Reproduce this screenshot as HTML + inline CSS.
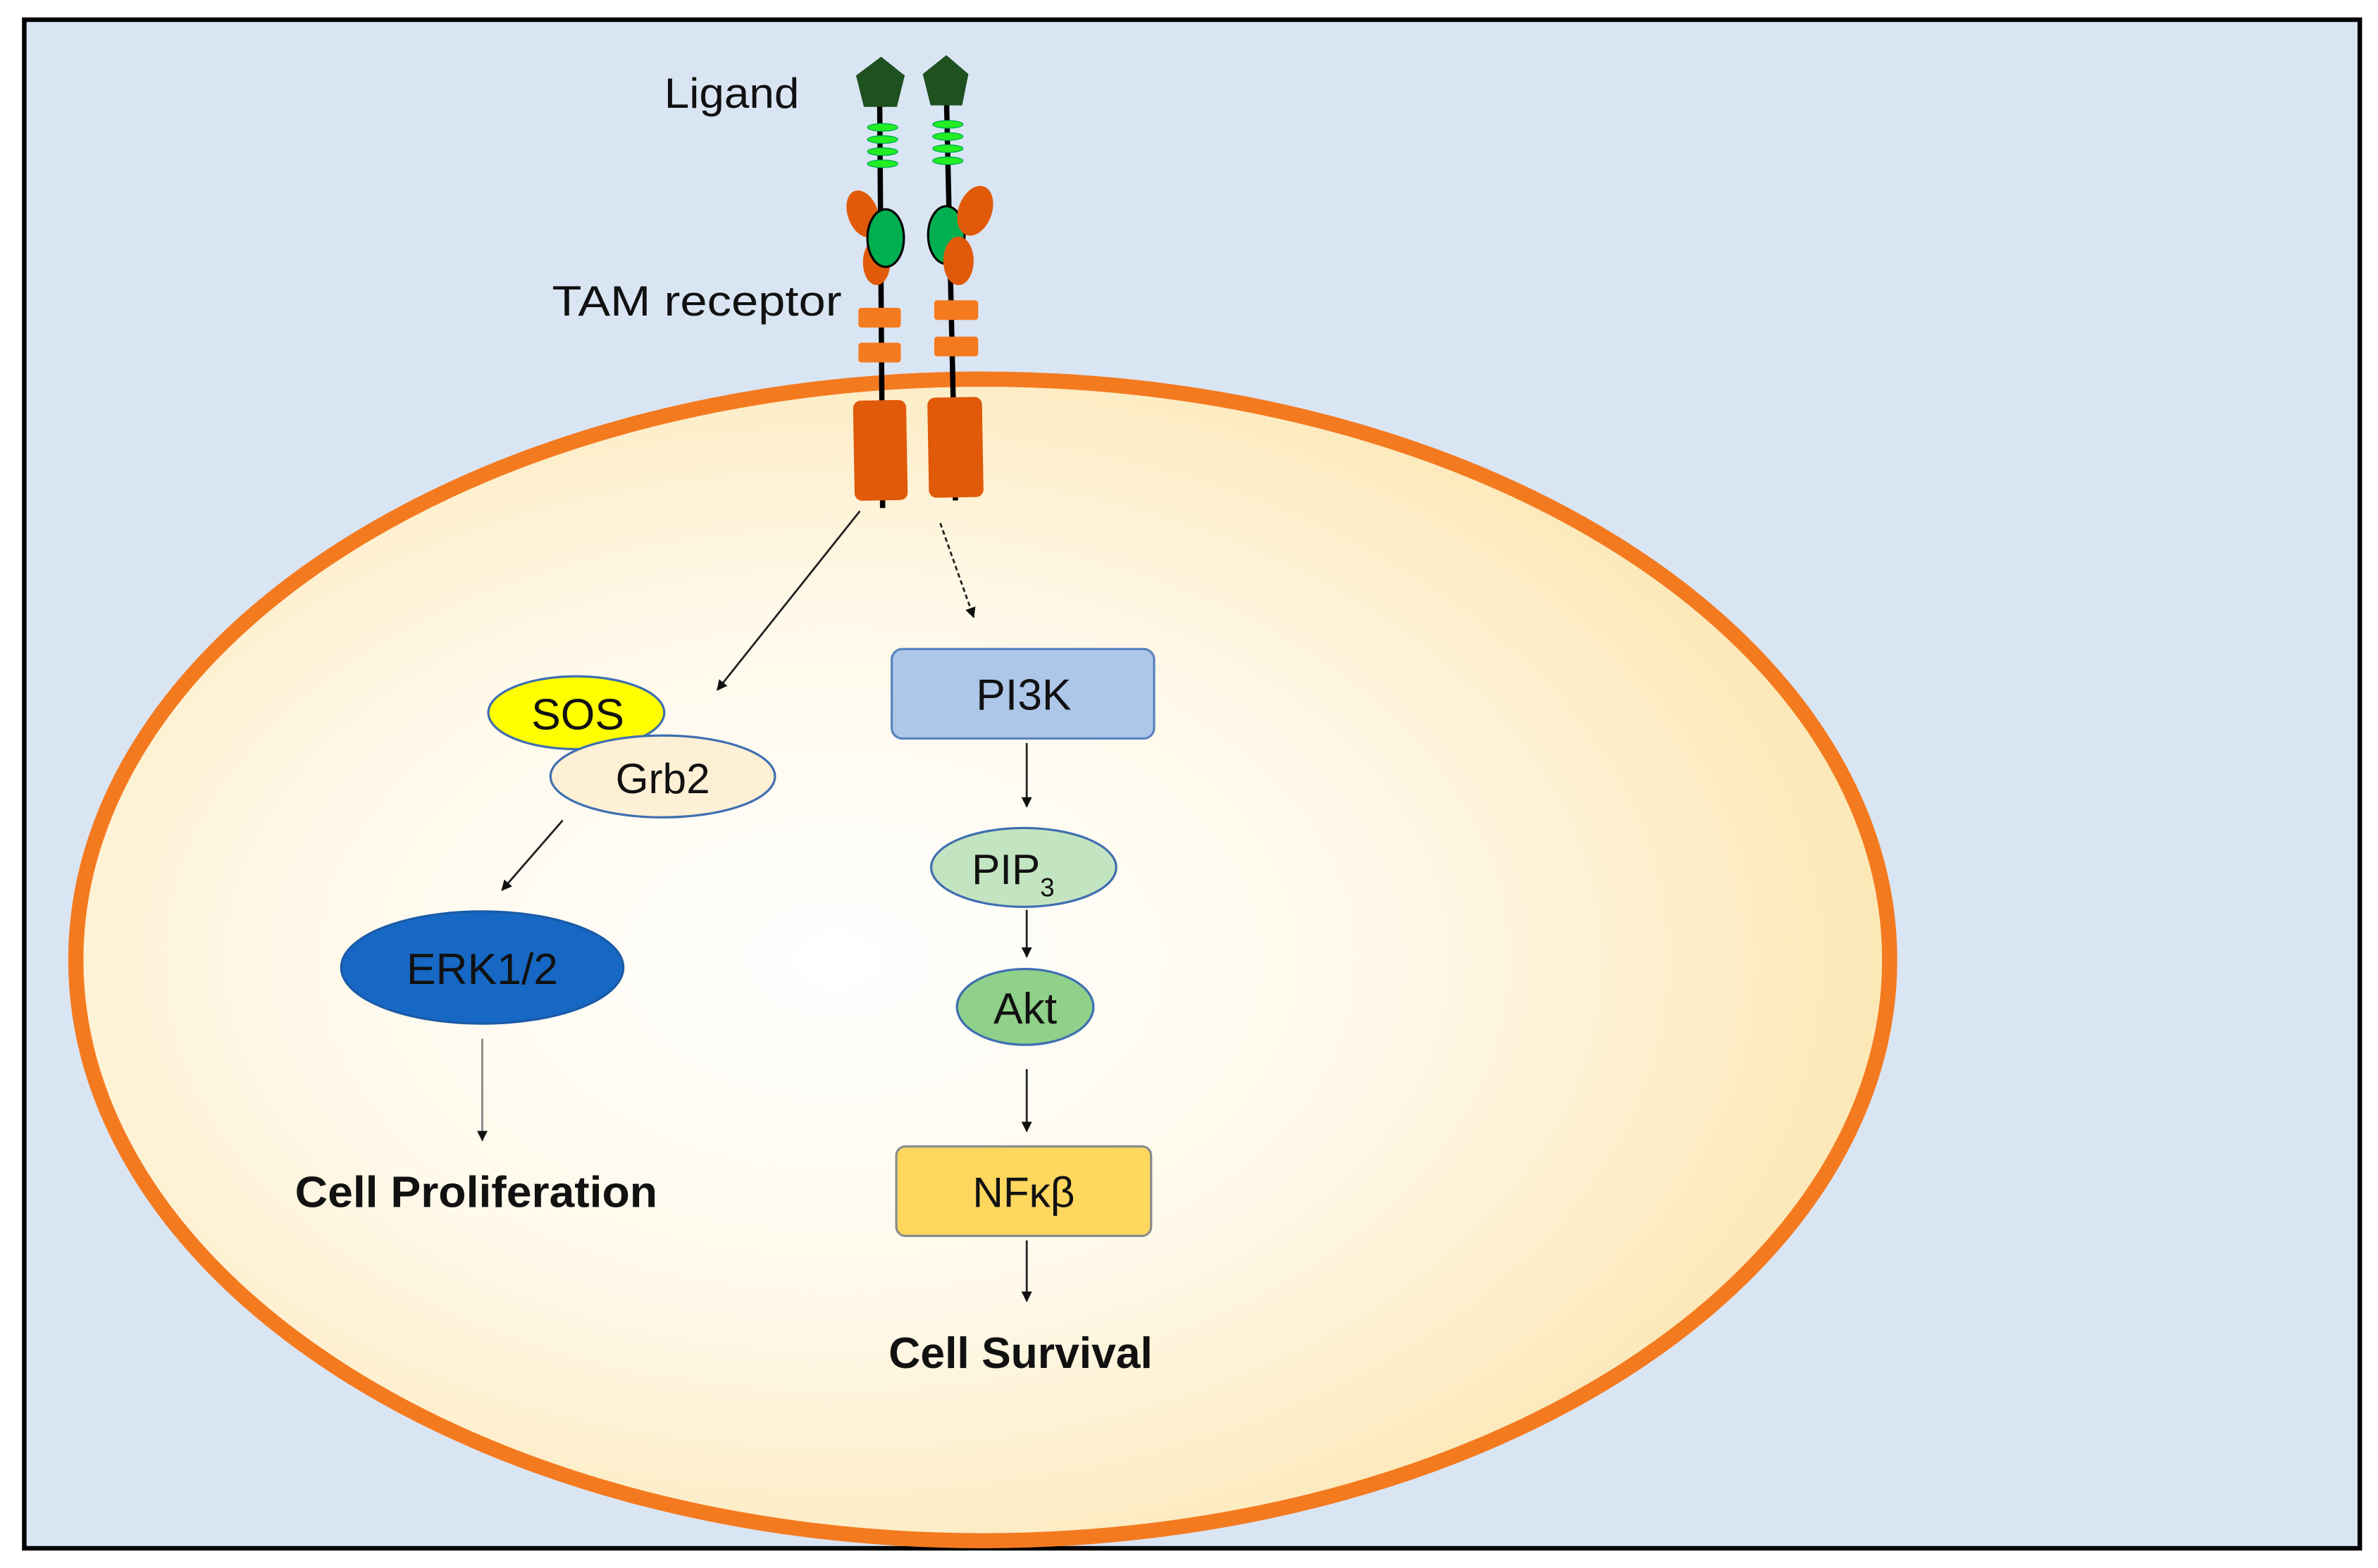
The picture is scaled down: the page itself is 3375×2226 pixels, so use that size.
<!DOCTYPE html>
<html><head><meta charset="utf-8"><style>
html,body{margin:0;padding:0;background:#fff;}
svg{display:block;}
text{font-family:"Liberation Sans Narrow","Liberation Sans",sans-serif;fill:#111;}
</style></head><body>
<svg width="3375" height="2226" viewBox="0 0 1568 1034" preserveAspectRatio="none" xmlns="http://www.w3.org/2000/svg">
<defs>
<radialGradient id="cg" cx="0.42" cy="0.5" r="0.6">
<stop offset="0" stop-color="#FFFFFF"/><stop offset="0.5" stop-color="#FFF9EA"/><stop offset="1" stop-color="#FCE6B2"/>
</radialGradient>
<marker id="ah" viewBox="0 0 10 10" refX="9" refY="5" markerWidth="7" markerHeight="7" orient="auto" markerUnits="userSpaceOnUse"><path d="M0,0L10,5L0,10z" fill="#111"/></marker>
</defs>
<rect x="0" y="0" width="1568" height="1034" fill="#fff"/>
<rect x="16" y="13" width="1540" height="1008" fill="#DAE5F4" stroke="#000" stroke-width="3"/>
<ellipse cx="648" cy="633" rx="598" ry="383" fill="url(#cg)" stroke="#F47A20" stroke-width="10"/>
<text x="438" y="71" font-size="28" textLength="89" lengthAdjust="spacingAndGlyphs">Ligand</text>
<text x="364" y="208" font-size="28" textLength="191" lengthAdjust="spacingAndGlyphs">TAM receptor</text>
<!-- receptors -->
<g stroke="#000" stroke-width="3.5"><line x1="580" y1="60" x2="582" y2="335"/><line x1="624" y1="60" x2="630" y2="330"/></g>
<polygon points="581,38 596,50 591,70 570,70 565,50" fill="#1E5020" stroke="#1E5020"/>
<polygon points="624,37 638,49 634,69 614,69 609,49" fill="#1E5020" stroke="#1E5020"/>
<g fill="#22EE22" stroke="#0a5" stroke-width="0.6">
<ellipse cx="582" cy="84" rx="10" ry="2.5"/><ellipse cx="582" cy="92" rx="10" ry="2.5"/><ellipse cx="582" cy="100" rx="10" ry="2.5"/><ellipse cx="582" cy="108" rx="10" ry="2.5"/>
<ellipse cx="625" cy="82" rx="10" ry="2.5"/><ellipse cx="625" cy="90" rx="10" ry="2.5"/><ellipse cx="625" cy="98" rx="10" ry="2.5"/><ellipse cx="625" cy="106" rx="10" ry="2.5"/></g>
<ellipse cx="569" cy="141" rx="10" ry="16" fill="#E05A0A" transform="rotate(-20 569 141)"/>
<ellipse cx="578" cy="173" rx="9" ry="15" fill="#E05A0A"/>
<ellipse cx="584" cy="157" rx="12" ry="19" fill="#00B050" stroke="#000" stroke-width="1.5"/>
<ellipse cx="624" cy="155" rx="12" ry="19" fill="#00B050" stroke="#000" stroke-width="1.5"/>
<ellipse cx="643" cy="139" rx="11" ry="17" fill="#E05A0A" transform="rotate(20 643 139)"/>
<ellipse cx="632" cy="172" rx="10" ry="16" fill="#E05A0A"/>
<g fill="#F47A20"><rect x="566" y="203" width="28" height="13" rx="2"/><rect x="566" y="226" width="28" height="13" rx="2"/>
<rect x="616" y="198" width="29" height="13" rx="2"/><rect x="616" y="222" width="29" height="13" rx="2"/></g>
<rect x="563" y="264" width="35" height="66" rx="5" fill="#E05A0A" transform="rotate(-1 580 297)"/>
<rect x="612" y="262" width="36" height="66" rx="5" fill="#E05A0A" transform="rotate(-1 630 295)"/>
<!-- arrows -->
<g stroke="#222" stroke-width="1.3" fill="none">
<line x1="567" y1="337" x2="473" y2="455" marker-end="url(#ah)"/>
<line x1="620" y1="345" x2="642" y2="407" stroke-dasharray="3,2" marker-end="url(#ah)"/>
<line x1="371" y1="541" x2="331" y2="587" marker-end="url(#ah)"/>
<line x1="318" y1="685" x2="318" y2="752" stroke="#888" marker-end="url(#ah)"/>
<line x1="677" y1="490" x2="677" y2="532" marker-end="url(#ah)"/>
<line x1="677" y1="600" x2="677" y2="631" marker-end="url(#ah)"/>
<line x1="677" y1="705" x2="677" y2="746" marker-end="url(#ah)"/>
<line x1="677" y1="818" x2="677" y2="858" marker-end="url(#ah)"/>
</g>
<!-- nodes -->
<ellipse cx="380" cy="470" rx="58" ry="24" fill="#FFFF00" stroke="#3F6FB0" stroke-width="1.5"/>
<text x="381" y="481" font-size="29" text-anchor="middle">SOS</text>
<ellipse cx="437" cy="512" rx="74" ry="27" fill="#FDF0D5" stroke="#3F6FB0" stroke-width="1.5"/>
<text x="437" y="523" font-size="28" text-anchor="middle">Grb2</text>
<ellipse cx="318" cy="638" rx="93" ry="37" fill="#1768C4" stroke="#1A5AA8" stroke-width="1.5"/>
<text x="318" y="649" font-size="29" text-anchor="middle">ERK1/2</text>
<text x="314" y="796" font-size="29" font-weight="bold" text-anchor="middle" textLength="239" lengthAdjust="spacingAndGlyphs">Cell Proliferation</text>
<rect x="588" y="428" width="173" height="59" rx="7" fill="#AEC7E9" stroke="#5B84BE" stroke-width="1.5"/>
<text x="675" y="468" font-size="29" text-anchor="middle">PI3K</text>
<ellipse cx="675" cy="572" rx="61" ry="26" fill="#C3E4C0" stroke="#3F6FB0" stroke-width="1.5"/>
<text x="668" y="583" font-size="28" text-anchor="middle">PIP<tspan font-size="17" dy="8">3</tspan></text>
<ellipse cx="676" cy="664" rx="45" ry="25" fill="#8FD08A" stroke="#3F6FB0" stroke-width="1.5"/>
<text x="676" y="675" font-size="29" text-anchor="middle">Akt</text>
<rect x="591" y="756" width="168" height="59" rx="6" fill="#FFD75E" stroke="#8C8C8C" stroke-width="1.5"/>
<text x="675" y="796" font-size="28" text-anchor="middle">NFκβ</text>
<text x="673" y="902" font-size="29" font-weight="bold" text-anchor="middle" textLength="174" lengthAdjust="spacingAndGlyphs">Cell Survival</text>
</svg>
</body></html>
